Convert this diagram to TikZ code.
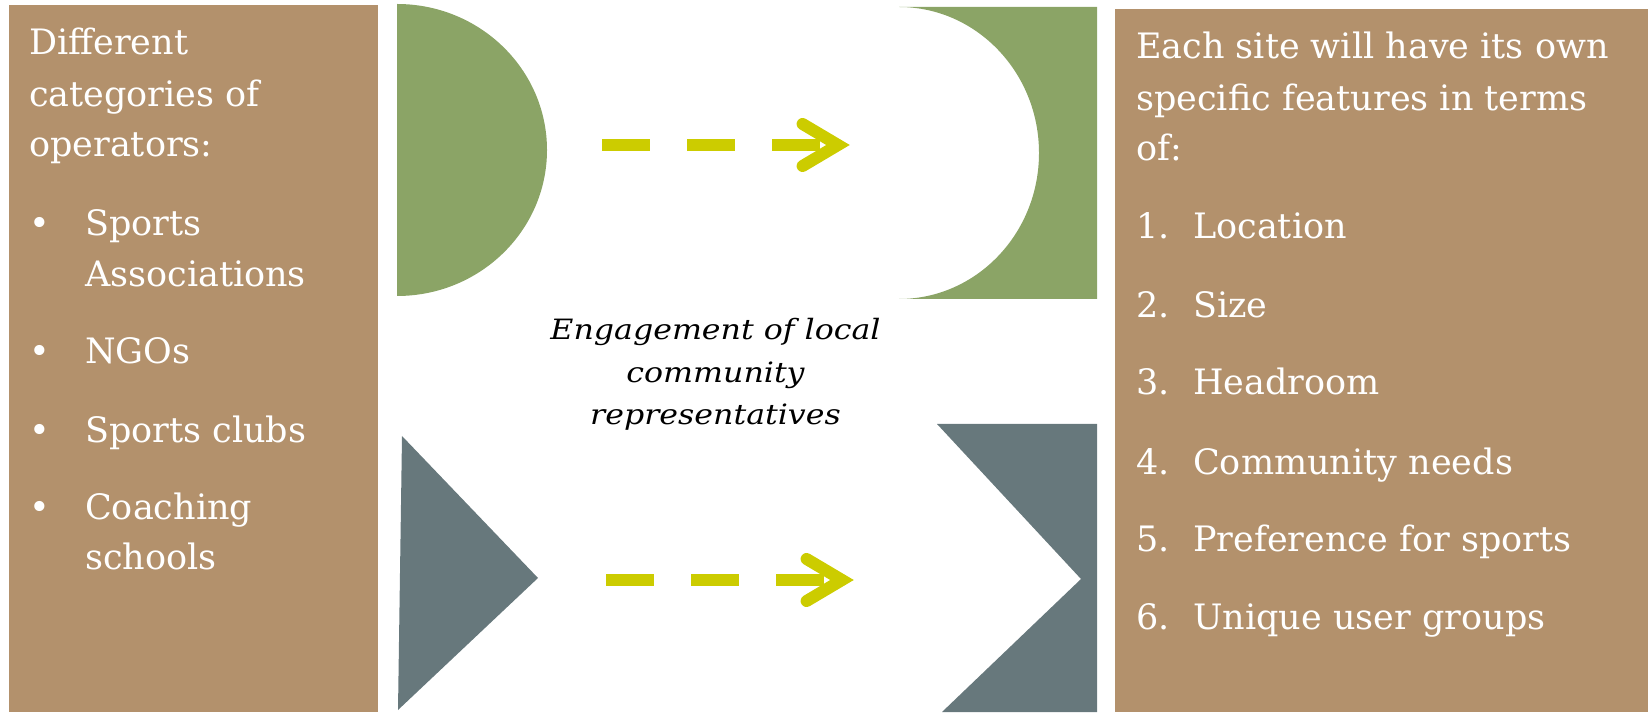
\documentclass[tikz,border=0pt]{standalone}
\usepackage{fontspec}
\setmainfont{DejaVu Serif}
\newfontfamily\midfont[FakeStretch=1.13]{DejaVu Serif}
\definecolor{boxbrown}{RGB}{179,145,108}
\definecolor{leafgreen}{RGB}{139,164,102}
\definecolor{slategray}{RGB}{103,120,124}
\definecolor{arrowyellow}{RGB}{204,204,0}
\tikzset{
  boxtext/.style={anchor=base west, inner sep=0pt, text=white, font=\fontsize{35}{42}\selectfont},
  midtext/.style={anchor=base, inner sep=0pt, text=black, font=\midfont\fontsize{28}{34}\selectfont\itshape},
  dashline/.style={draw=arrowyellow, line width=12pt, dash pattern=on 48pt off 37pt},
  chevron/.style={draw=arrowyellow, line width=12pt, line cap=round, line join=miter}
}
\begin{document}
\begin{tikzpicture}[x=1pt,y=1pt]
\useasboundingbox (0,0) rectangle (1648,712);
% boxes
\fill[boxbrown] (9,707) rectangle (378,0);
\fill[boxbrown] (1115,703) rectangle (1648,0);
% green shapes
\fill[leafgreen] (397,708) arc[start angle=90, end angle=-90, x radius=150pt, y radius=146pt] -- cycle;
\fill[leafgreen] (899,705) -- (1097,705) -- (1097,413) -- (899,413)
   arc[start angle=-90, end angle=90, x radius=140pt, y radius=146pt] -- cycle;
% gray shapes
\fill[slategray] (402,276) -- (538,134) -- (398,2) -- cycle;
\fill[slategray] (937,288) -- (1097,288) -- (1097,0) -- (942,0) -- (1081,133) -- cycle;
% arrows
\coordinate (a1s) at (602,567);
\coordinate (a1e) at (820,567);
\coordinate (a1t) at (838,567);
\draw[dashline] (a1s) -- (a1e);
\draw[chevron] ([xshift=-35.4pt,yshift=21pt]a1t) -- (a1t) -- ([xshift=-35.4pt,yshift=-21pt]a1t);
\coordinate (a2s) at (606,132);
\coordinate (a2e) at (824,132);
\coordinate (a2t) at (842,132);
\draw[dashline] (a2s) -- (a2e);
\draw[chevron] ([xshift=-35.4pt,yshift=21pt]a2t) -- (a2t) -- ([xshift=-35.4pt,yshift=-21pt]a2t);
% middle text
\node[midtext] (m1) at (715.5,372) {Engagement of local};
\node[midtext] (m2) at (715.5,329) {community};
\node[midtext] (m3) at (715.5,287) {representatives};
% left text
\node[boxtext] (l1) at (29,657) {Different};
\node[boxtext] (l2) at (29,605) {categories of};
\node[boxtext] (l3) at (29,555) {operators:};
\node[boxtext] (lb1) at (29,476) {•};
\node[boxtext] (li1) at (85,476) {Sports};
\node[boxtext] (li1b) at (85,425) {Associations};
\node[boxtext] (lb2) at (29,348) {•};
\node[boxtext] (li2) at (85,348) {NGOs};
\node[boxtext] (lb3) at (29,269) {•};
\node[boxtext] (li3) at (85,269) {Sports clubs};
\node[boxtext] (lb4) at (29,192) {•};
\node[boxtext] (li4) at (85,192) {Coaching};
\node[boxtext] (li4b) at (85,142) {schools};
% right text
\node[boxtext] (r1) at (1136,653) {Each site will have its own};
\node[boxtext] (r2) at (1136,601) {specific features in terms};
\node[boxtext] (r3) at (1136,551) {of:};
\node[boxtext] (rn1) at (1136,473) {1.};
\node[boxtext] (ri1) at (1193,473) {Location};
\node[boxtext] (rn2) at (1136,394) {2.};
\node[boxtext] (ri2) at (1193,394) {Size};
\node[boxtext] (rn3) at (1136,317) {3.};
\node[boxtext] (ri3) at (1193,317) {Headroom};
\node[boxtext] (rn4) at (1136,237) {4.};
\node[boxtext] (ri4) at (1193,237) {Community needs};
\node[boxtext] (rn5) at (1136,160) {5.};
\node[boxtext] (ri5) at (1193,160) {Preference for sports};
\node[boxtext] (rn6) at (1136,82) {6.};
\node[boxtext] (ri6) at (1193,82) {Unique user groups};
\end{tikzpicture}
\end{document}
